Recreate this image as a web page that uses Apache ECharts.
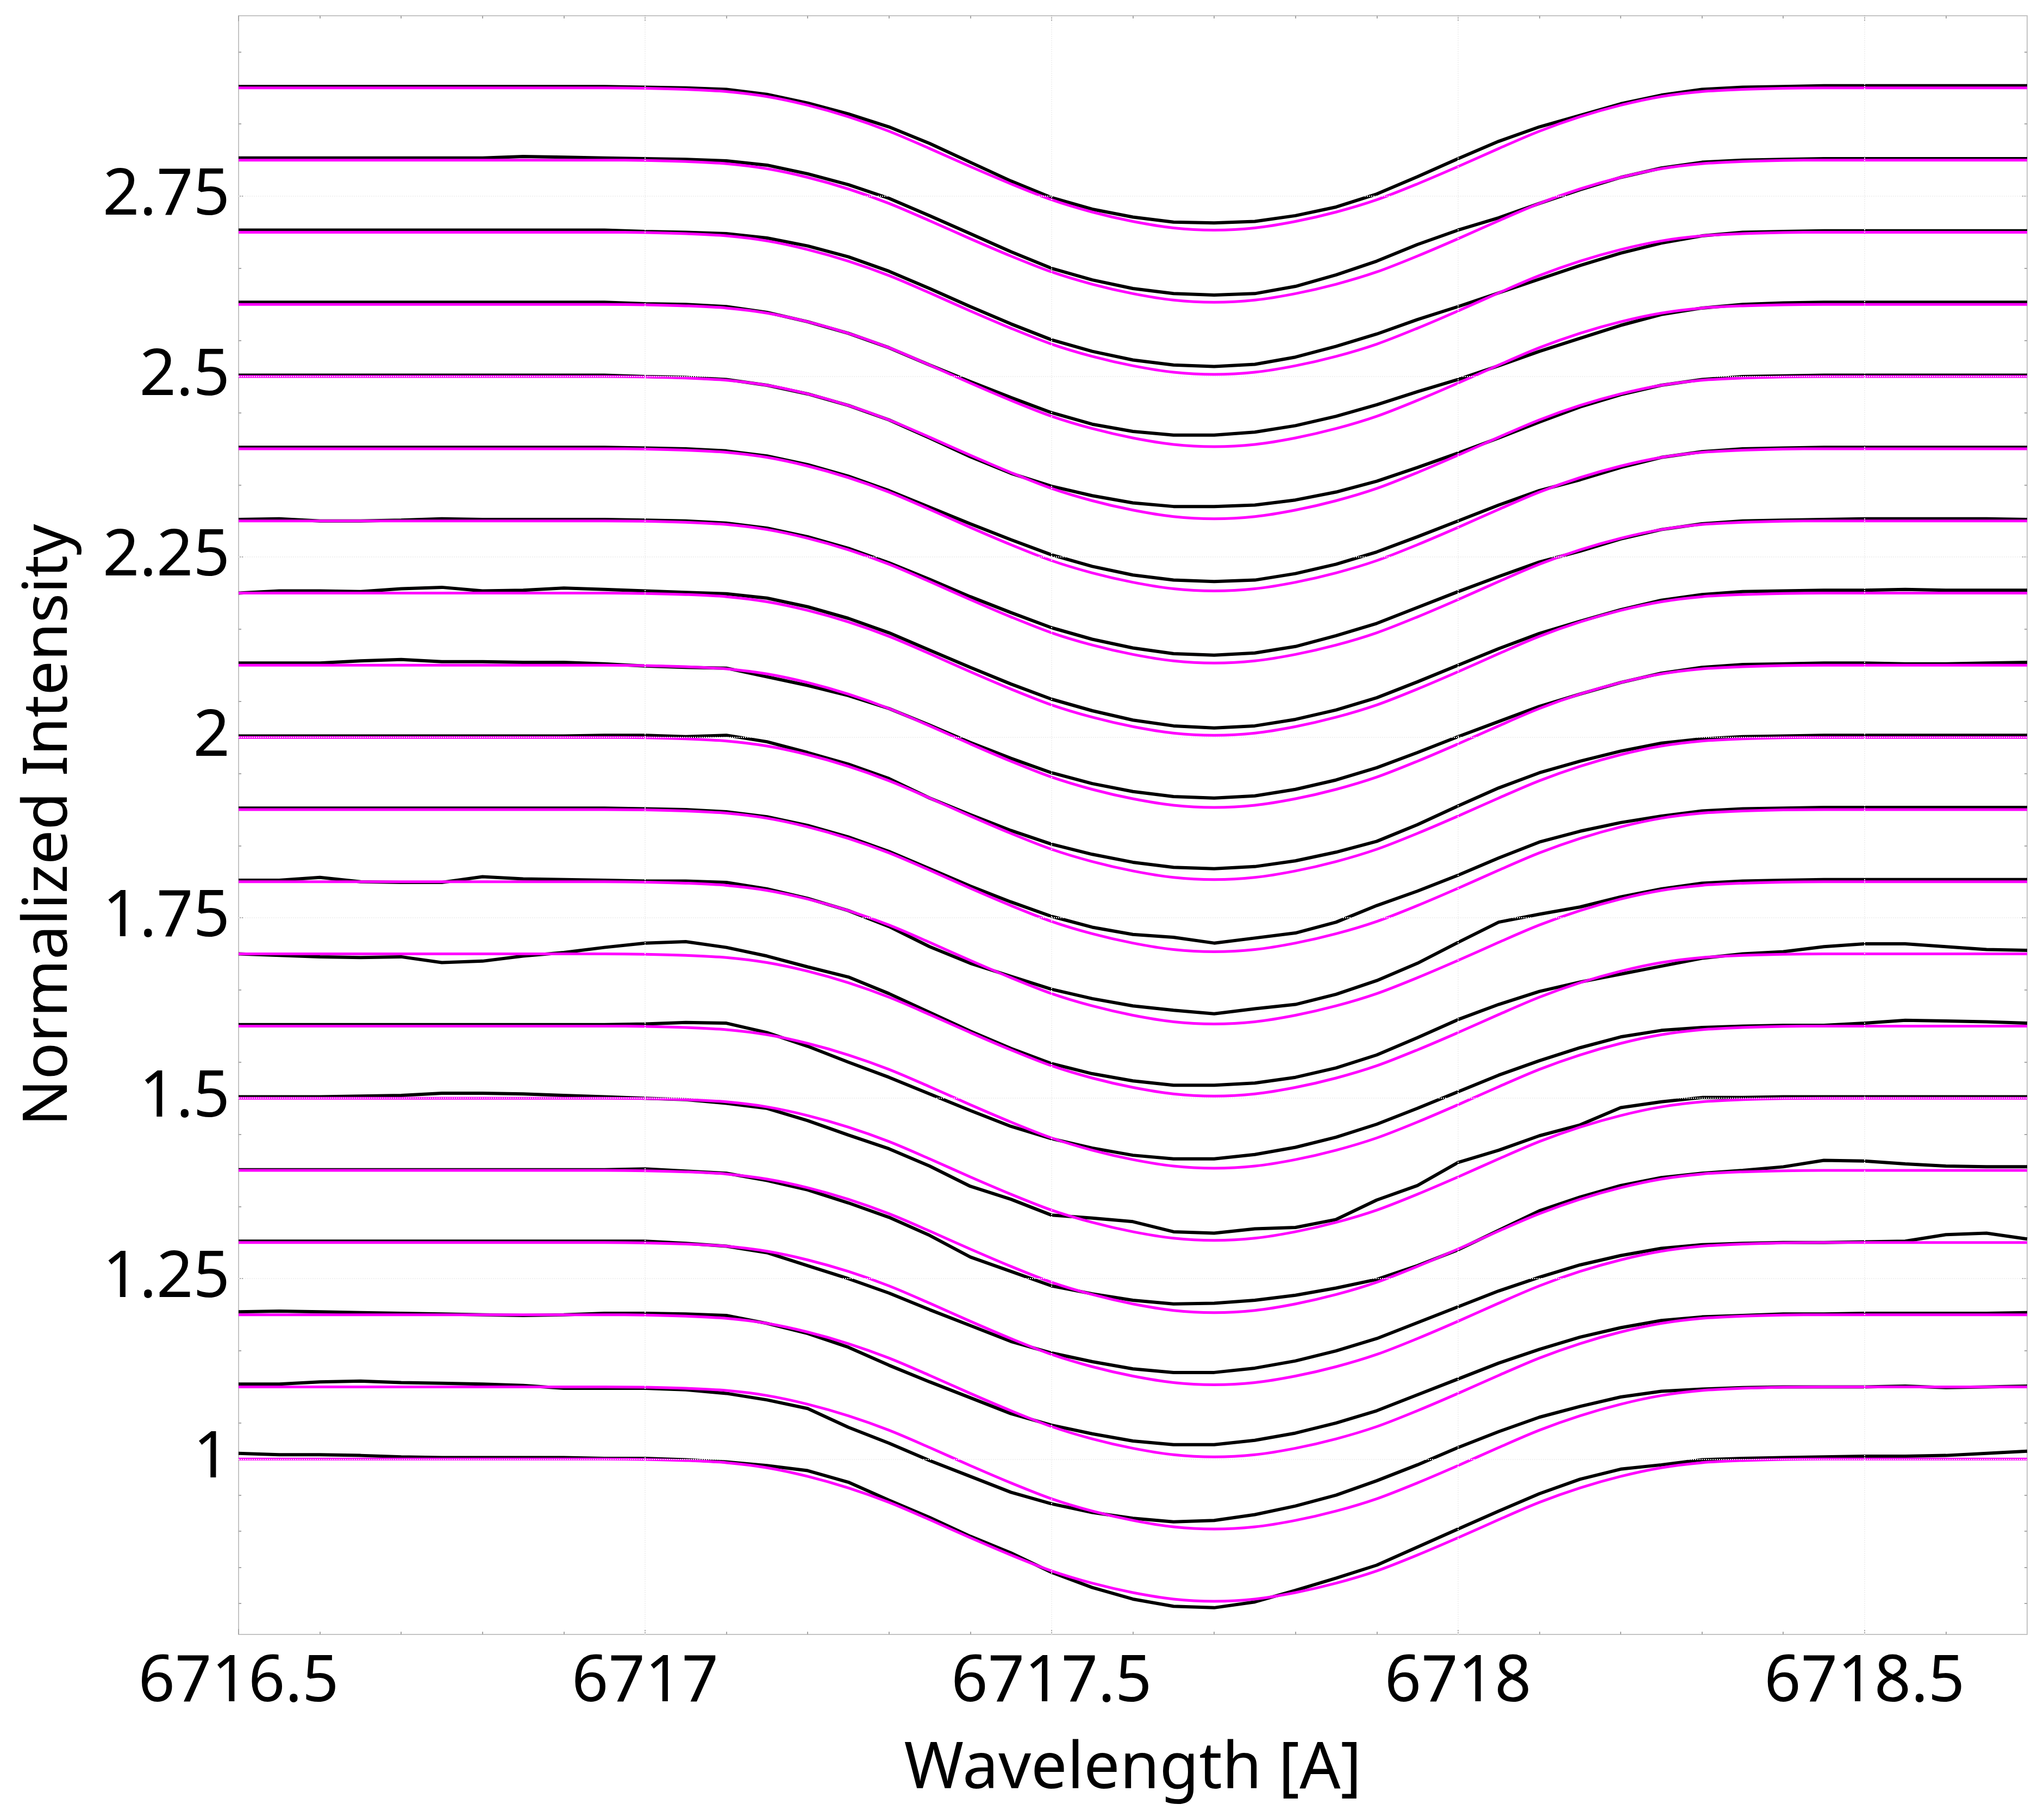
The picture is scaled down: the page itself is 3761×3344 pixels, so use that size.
<!DOCTYPE html>
<html>
<head>
<meta charset="utf-8">
<title>Normalized spectra</title>
<script src="https://cdn.jsdelivr.net/npm/echarts@6/dist/echarts.min.js"></script>
<style>
  html, body { margin: 0; padding: 0; background: #fff; }
  #chart { width: 3761px; height: 3344px; }
</style>
</head>
<body>
<div id="chart"></div>
<script>
// wavelength grid [A], shared by all spectra
const wave = [6716.5, 6716.55, 6716.6, 6716.65, 6716.7, 6716.75, 6716.8, 6716.85, 6716.9, 6716.95,
  6717, 6717.05, 6717.1, 6717.15, 6717.2, 6717.25, 6717.3, 6717.35, 6717.4, 6717.45,
  6717.5, 6717.55, 6717.6, 6717.65, 6717.7, 6717.75, 6717.8, 6717.85, 6717.9, 6717.95,
  6718, 6718.05, 6718.1, 6718.15, 6718.2, 6718.25, 6718.3, 6718.35, 6718.4,
  6718.45, 6718.5, 6718.55, 6718.6, 6718.65, 6718.7];

// vertical offset of each spectrum (bottom to top)
const offsets = [0, 0.1, 0.2, 0.3, 0.4, 0.5, 0.6, 0.7, 0.8, 0.9, 1.0, 1.1, 1.2, 1.3, 1.4, 1.5, 1.6, 1.7, 1.8, 1.9];

// synthetic line profile (magenta), same for every spectrum
const model = [1, 1, 1, 1, 1, 1, 1, 1, 1, 1,
  0.9995, 0.998, 0.995, 0.988, 0.976, 0.960, 0.940, 0.916, 0.891, 0.867,
  0.845, 0.828, 0.815, 0.806, 0.803, 0.806, 0.815, 0.828, 0.845, 0.867,
  0.891, 0.916, 0.940, 0.960, 0.976, 0.988, 0.995, 0.998, 0.9995,
  1, 1, 1, 1, 1, 1];

// observed normalized flux (black), one array per spectrum
const obs10 = [1.008, 1.006, 1.006, 1.005, 1.003, 1.002, 1.002, 1.002, 1.002, 1.001,
  1.001, 0.999, 0.996, 0.991, 0.984, 0.968, 0.943, 0.919, 0.893, 0.870,
  0.843, 0.822, 0.806, 0.796, 0.794, 0.802, 0.818, 0.835, 0.853, 0.878,
  0.903, 0.928, 0.952, 0.972, 0.986, 0.992, 0.999, 1.001, 1.002,
  1.003, 1.004, 1.004, 1.005, 1.008, 1.011];
const obs11 = [1.004, 1.004, 1.007, 1.008, 1.006, 1.005, 1.004, 1.002, 0.998, 0.998,
  0.998, 0.996, 0.991, 0.982, 0.970, 0.944, 0.922, 0.898, 0.876, 0.854,
  0.838, 0.826, 0.818, 0.813, 0.815, 0.823, 0.835, 0.850, 0.870, 0.892,
  0.916, 0.938, 0.958, 0.973, 0.986, 0.994, 0.997, 0.999, 1.000,
  1.000, 1.000, 1.001, 0.999, 1.000, 1.001];
const obs12 = [1.004, 1.005, 1.004, 1.003, 1.002, 1.001, 1.000, 0.999, 1.000, 1.002,
  1.002, 1.001, 0.999, 0.988, 0.974, 0.955, 0.930, 0.907, 0.885, 0.863,
  0.847, 0.835, 0.825, 0.820, 0.820, 0.826, 0.836, 0.850, 0.867, 0.889,
  0.911, 0.933, 0.952, 0.969, 0.982, 0.992, 0.997, 0.999, 1.001,
  1.001, 1.002, 1.002, 1.002, 1.002, 1.003];
const obs13 = [1.002, 1.002, 1.002, 1.002, 1.002, 1.002, 1.002, 1.002, 1.002, 1.002,
  1.002, 0.999, 0.995, 0.986, 0.968, 0.950, 0.930, 0.907, 0.885, 0.863,
  0.847, 0.835, 0.825, 0.820, 0.820, 0.826, 0.836, 0.850, 0.867, 0.889,
  0.911, 0.933, 0.952, 0.969, 0.982, 0.992, 0.997, 0.999, 1.000,
  1.000, 1.001, 1.002, 1.011, 1.013, 1.005];
const obs14 = [1.001, 1.001, 1.001, 1.001, 1.001, 1.001, 1.001, 1.001, 1.001, 1.001,
  1.002, 0.999, 0.996, 0.986, 0.973, 0.955, 0.935, 0.910, 0.880, 0.860,
  0.840, 0.829, 0.820, 0.815, 0.816, 0.820, 0.827, 0.837, 0.849, 0.868,
  0.890, 0.917, 0.944, 0.963, 0.979, 0.990, 0.996, 1.000, 1.005,
  1.014, 1.013, 1.009, 1.006, 1.005, 1.005];
const obs15 = [1.002, 1.002, 1.002, 1.003, 1.004, 1.007, 1.007, 1.006, 1.004, 1.002,
  1.000, 0.998, 0.993, 0.986, 0.969, 0.949, 0.930, 0.906, 0.878, 0.860,
  0.838, 0.834, 0.829, 0.815, 0.813, 0.819, 0.821, 0.832, 0.859, 0.879,
  0.911, 0.928, 0.948, 0.963, 0.987, 0.995, 1.001, 1.001, 1.002,
  1.002, 1.002, 1.002, 1.002, 1.002, 1.002];
const obs16 = [1.002, 1.002, 1.002, 1.002, 1.002, 1.002, 1.002, 1.002, 1.002, 1.002,
  1.003, 1.005, 1.004, 0.991, 0.972, 0.950, 0.929, 0.906, 0.883, 0.861,
  0.844, 0.831, 0.821, 0.816, 0.816, 0.822, 0.832, 0.846, 0.864, 0.886,
  0.909, 0.932, 0.952, 0.970, 0.985, 0.994, 0.998, 1.000, 1.001,
  1.001, 1.004, 1.008, 1.007, 1.006, 1.004];
const obs17 = [1.000, 0.998, 0.996, 0.995, 0.996, 0.988, 0.990, 0.997, 1.002, 1.009,
  1.015, 1.017, 1.009, 0.997, 0.982, 0.968, 0.945, 0.919, 0.893, 0.869,
  0.848, 0.834, 0.824, 0.818, 0.818, 0.821, 0.829, 0.842, 0.860, 0.884,
  0.909, 0.930, 0.948, 0.961, 0.972, 0.983, 0.994, 1.000, 1.003,
  1.010, 1.014, 1.014, 1.010, 1.006, 1.005];
const obs18 = [1.002, 1.002, 1.006, 1.000, 0.999, 0.999, 1.007, 1.004, 1.003, 1.002,
  1.001, 1.001, 0.999, 0.990, 0.977, 0.960, 0.938, 0.910, 0.887, 0.869,
  0.851, 0.838, 0.828, 0.822, 0.817, 0.824, 0.830, 0.844, 0.863, 0.887,
  0.916, 0.944, 0.955, 0.965, 0.979, 0.990, 0.998, 1.001, 1.002,
  1.003, 1.003, 1.003, 1.003, 1.003, 1.003];
const obs19 = [1.002, 1.002, 1.002, 1.002, 1.002, 1.002, 1.002, 1.002, 1.002, 1.002,
  1.001, 1.000, 0.997, 0.990, 0.978, 0.962, 0.942, 0.918, 0.894, 0.872,
  0.852, 0.837, 0.827, 0.823, 0.815, 0.822, 0.829, 0.844, 0.867, 0.887,
  0.909, 0.933, 0.955, 0.970, 0.982, 0.991, 0.998, 1.001, 1.002,
  1.003, 1.003, 1.003, 1.003, 1.003, 1.003];
const obs20 = [1.002, 1.002, 1.002, 1.002, 1.002, 1.002, 1.002, 1.002, 1.002, 1.003,
  1.003, 1.001, 1.003, 0.994, 0.979, 0.963, 0.943, 0.916, 0.893, 0.871,
  0.852, 0.838, 0.827, 0.820, 0.818, 0.821, 0.829, 0.841, 0.856, 0.879,
  0.905, 0.930, 0.951, 0.967, 0.981, 0.992, 0.998, 1.001, 1.002,
  1.003, 1.003, 1.003, 1.003, 1.003, 1.003];
const obs21 = [1.003, 1.003, 1.003, 1.006, 1.008, 1.005, 1.005, 1.004, 1.004, 1.002,
  0.999, 0.997, 0.996, 0.984, 0.972, 0.958, 0.940, 0.917, 0.893, 0.871,
  0.851, 0.836, 0.825, 0.818, 0.816, 0.819, 0.828, 0.841, 0.858, 0.879,
  0.901, 0.922, 0.943, 0.960, 0.976, 0.989, 0.997, 1.001, 1.002,
  1.003, 1.003, 1.002, 1.002, 1.003, 1.004];
const obs22 = [1.000, 1.003, 1.003, 1.002, 1.006, 1.008, 1.003, 1.004, 1.007, 1.005,
  1.003, 1.001, 0.999, 0.993, 0.981, 0.965, 0.945, 0.921, 0.897, 0.874,
  0.853, 0.837, 0.824, 0.816, 0.813, 0.816, 0.825, 0.838, 0.855, 0.877,
  0.900, 0.923, 0.944, 0.961, 0.977, 0.990, 0.998, 1.002, 1.003,
  1.004, 1.004, 1.005, 1.004, 1.004, 1.004];
const obs23 = [1.002, 1.003, 1.000, 1.000, 1.001, 1.003, 1.002, 1.002, 1.002, 1.002,
  1.001, 1.000, 0.997, 0.990, 0.978, 0.962, 0.942, 0.919, 0.895, 0.873,
  0.852, 0.836, 0.824, 0.816, 0.814, 0.817, 0.826, 0.841, 0.858, 0.880,
  0.902, 0.923, 0.943, 0.958, 0.975, 0.988, 0.996, 1.000, 1.001,
  1.002, 1.003, 1.003, 1.003, 1.003, 1.002];
const obs24 = [1.002, 1.002, 1.002, 1.002, 1.002, 1.002, 1.002, 1.002, 1.002, 1.002,
  1.001, 1.000, 0.997, 0.990, 0.978, 0.962, 0.942, 0.919, 0.896, 0.874,
  0.853, 0.837, 0.825, 0.818, 0.816, 0.818, 0.827, 0.840, 0.857, 0.878,
  0.900, 0.922, 0.942, 0.957, 0.974, 0.988, 0.996, 1.000, 1.001,
  1.002, 1.002, 1.002, 1.002, 1.002, 1.002];
const obs25 = [1.002, 1.002, 1.002, 1.002, 1.002, 1.002, 1.002, 1.002, 1.002, 1.002,
  1.000, 0.999, 0.996, 0.988, 0.976, 0.960, 0.940, 0.915, 0.889, 0.866,
  0.848, 0.835, 0.825, 0.820, 0.820, 0.822, 0.829, 0.840, 0.855, 0.874,
  0.894, 0.915, 0.937, 0.958, 0.975, 0.988, 0.996, 1.000, 1.001,
  1.002, 1.002, 1.002, 1.002, 1.002, 1.002];
const obs26 = [1.003, 1.003, 1.003, 1.003, 1.003, 1.003, 1.003, 1.003, 1.003, 1.003,
  1.001, 1.000, 0.997, 0.989, 0.976, 0.960, 0.940, 0.916, 0.893, 0.871,
  0.850, 0.834, 0.824, 0.819, 0.819, 0.823, 0.832, 0.845, 0.861, 0.879,
  0.896, 0.915, 0.935, 0.953, 0.971, 0.986, 0.995, 1.000, 1.002,
  1.003, 1.003, 1.003, 1.003, 1.003, 1.003];
const obs27 = [1.003, 1.003, 1.003, 1.003, 1.003, 1.003, 1.003, 1.003, 1.003, 1.003,
  1.001, 1.000, 0.998, 0.992, 0.981, 0.966, 0.946, 0.922, 0.897, 0.873,
  0.851, 0.835, 0.823, 0.816, 0.814, 0.817, 0.827, 0.842, 0.859, 0.879,
  0.897, 0.916, 0.935, 0.954, 0.971, 0.985, 0.995, 1.000, 1.001,
  1.002, 1.002, 1.002, 1.002, 1.002, 1.002];
const obs28 = [1.003, 1.003, 1.003, 1.003, 1.003, 1.003, 1.003, 1.005, 1.004, 1.003,
  1.002, 1.001, 0.999, 0.993, 0.981, 0.966, 0.947, 0.923, 0.898, 0.873,
  0.850, 0.834, 0.822, 0.815, 0.813, 0.815, 0.825, 0.841, 0.860, 0.883,
  0.903, 0.920, 0.940, 0.959, 0.976, 0.989, 0.997, 1.000, 1.001,
  1.002, 1.002, 1.002, 1.002, 1.002, 1.002];
const obs29 = [1.002, 1.002, 1.002, 1.002, 1.002, 1.002, 1.002, 1.002, 1.002, 1.002,
  1.001, 1.000, 0.998, 0.991, 0.979, 0.964, 0.946, 0.923, 0.897, 0.871,
  0.848, 0.832, 0.821, 0.814, 0.813, 0.815, 0.823, 0.835, 0.853, 0.877,
  0.902, 0.926, 0.946, 0.962, 0.978, 0.990, 0.998, 1.001, 1.002,
  1.003, 1.003, 1.003, 1.003, 1.003, 1.003];

const observed = [obs10, obs11, obs12, obs13, obs14, obs15, obs16, obs17, obs18, obs19,
  obs20, obs21, obs22, obs23, obs24, obs25, obs26, obs27, obs28, obs29];

// axis ticks
const xMajor = [6716.5, 6717, 6717.5, 6718, 6718.5];
const xMinor = [6716.6, 6716.7, 6716.8, 6716.9, 6717, 6717.1, 6717.2, 6717.3, 6717.4, 6717.5,
  6717.6, 6717.7, 6717.8, 6717.9, 6718, 6718.1, 6718.2, 6718.3, 6718.4, 6718.5, 6718.6];
const yMajor = [1, 1.25, 1.5, 1.75, 2, 2.25, 2.5, 2.75];
const yMinor = [0.8, 0.85, 0.9, 0.95, 1, 1.05, 1.1, 1.15, 1.2, 1.25, 1.3, 1.35, 1.4, 1.45,
  1.5, 1.55, 1.6, 1.65, 1.7, 1.75, 1.8, 1.85, 1.9, 1.95, 2, 2.05, 2.1, 2.15, 2.2, 2.25,
  2.3, 2.35, 2.4, 2.45, 2.5, 2.55, 2.6, 2.65, 2.7, 2.75, 2.8, 2.85, 2.9, 2.95];

const X_MIN = 6716.5, X_MAX = 6718.7;
const Y_MIN = 0.757, Y_MAX = 3.0;
const FONT = "'Noto Sans', 'DejaVu Sans', sans-serif";
const FRAME = '#c4c4c4';
const TICK = '#a8a8a8';

const chart = echarts.init(document.getElementById('chart'), null, { renderer: 'canvas' });

function fmt(v) {
  return String(Math.round(v * 100) / 100);
}

function xAxisDef(position, ticks, len, withLabel) {
  return {
    type: 'value', min: X_MIN, max: X_MAX, position: position,
    name: withLabel ? 'Wavelength [A]' : '',
    nameLocation: 'middle', nameGap: 190,
    nameTextStyle: { fontSize: 118, fontFamily: FONT, color: '#000' },
    axisLine: { show: true, onZero: false, lineStyle: { color: FRAME, width: 2 } },
    axisTick: { show: true, inside: true, length: len, customValues: ticks, lineStyle: { color: TICK, width: 2 } },
    axisLabel: withLabel
      ? { show: true, customValues: xMajor, formatter: fmt, margin: 30, fontSize: 118, fontFamily: FONT, color: '#000' }
      : { show: false },
    splitLine: { show: false }
  };
}

function yAxisDef(position, ticks, len, withLabel) {
  return {
    type: 'value', min: Y_MIN, max: Y_MAX, position: position,
    name: withLabel ? 'Normalized Intensity' : '',
    nameLocation: 'middle', nameGap: 292,
    nameTextStyle: { fontSize: 113, fontFamily: FONT, color: '#000' },
    axisLine: { show: true, onZero: false, lineStyle: { color: FRAME, width: 2 } },
    axisTick: { show: true, inside: true, length: len, customValues: ticks, lineStyle: { color: TICK, width: 2 } },
    axisLabel: withLabel
      ? { show: true, customValues: yMajor, formatter: fmt, margin: 16, fontSize: 118, fontFamily: FONT, color: '#000' }
      : { show: false },
    splitLine: { show: false }
  };
}

const series = [];

// very faint dotted grid at the major ticks
series.push({
  type: 'line', data: [], silent: true, z: 1, symbol: 'none',
  markLine: {
    silent: true, symbol: 'none', animation: false,
    label: { show: false },
    lineStyle: { color: '#f1f1f1', type: 'dotted', width: 2 },
    data: xMajor.slice(1).map(v => ({ xAxis: v })).concat(yMajor.map(v => ({ yAxis: v })))
  }
});

observed.forEach((flux, i) => {
  series.push({
    type: 'line', name: 'observed', symbol: 'none', silent: true, z: 2,
    data: wave.map((w, j) => [w, flux[j] + offsets[i]]),
    lineStyle: { color: '#000000', width: 6 }
  });
});

observed.forEach((_, i) => {
  series.push({
    type: 'line', name: 'model', symbol: 'none', silent: true, z: 3, smooth: 0.3,
    data: wave.map((w, j) => [w, model[j] + offsets[i]]),
    lineStyle: { color: '#ff00ff', width: 5 }
  });
});

chart.setOption({
  animation: false,
  backgroundColor: '#ffffff',
  grid: { left: 439, right: 31, top: 29, bottom: 336, containLabel: false },
  xAxis: [
    xAxisDef('bottom', xMajor, 10, true),
    xAxisDef('top', xMajor, 10, false),
    xAxisDef('bottom', xMinor, 5, false),
    xAxisDef('top', xMinor, 5, false)
  ],
  yAxis: [
    yAxisDef('left', yMajor, 10, true),
    yAxisDef('right', yMajor, 10, false),
    yAxisDef('left', yMinor, 5, false),
    yAxisDef('right', yMinor, 5, false)
  ],
  series: series
});
</script>
</body>
</html>
